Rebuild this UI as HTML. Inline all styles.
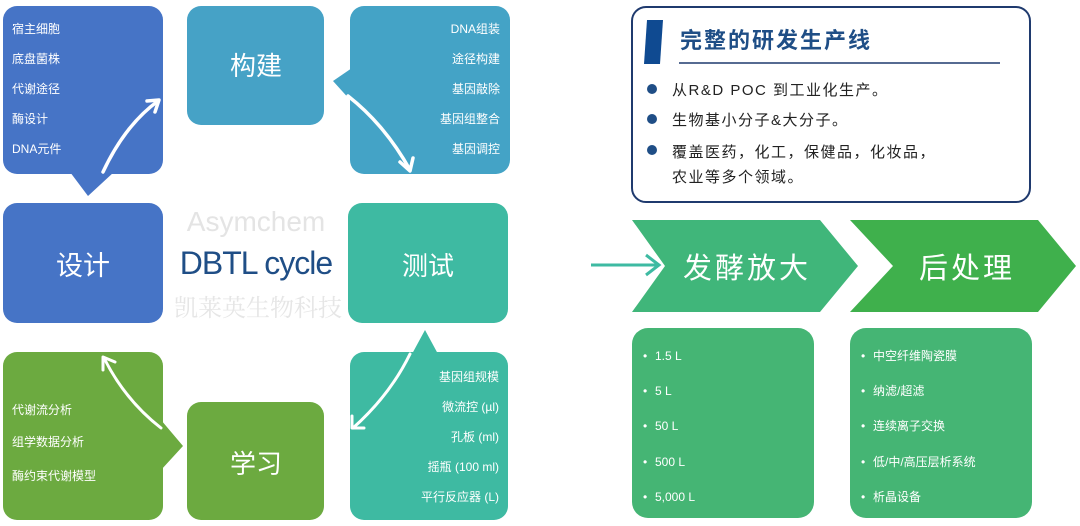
<!DOCTYPE html>
<html><head><meta charset="utf-8"><style>
html,body{margin:0;padding:0;background:#fff;}
svg{display:block;font-family:"Liberation Sans","Noto Sans CJK SC",sans-serif;}
</style></head><body>
<svg width="1080" height="526" viewBox="0 0 1080 526" xmlns="http://www.w3.org/2000/svg">
<rect x="3" y="6" width="160" height="168" rx="14" fill="#4674c6"/>
<polygon points="70,172 114,172 88,196" fill="#4674c6"/>
<g fill="#fff" font-size="12">
<text x="12" y="33">宿主细胞</text>
<text x="12" y="63">底盘菌株</text>
<text x="12" y="93">代谢途径</text>
<text x="12" y="123">酶设计</text>
<text x="12" y="153">DNA元件</text>
</g>
<rect x="3" y="203" width="160" height="120" rx="14" fill="#4674c6"/>
<text x="83" y="275" fill="#fff" font-size="27" text-anchor="middle">设计</text>
<rect x="187" y="6" width="137" height="119" rx="14" fill="#46a2c6"/>
<text x="256" y="75" fill="#fff" font-size="26" text-anchor="middle">构建</text>
<rect x="350" y="6" width="160" height="168" rx="14" fill="#44a3c6"/>
<polygon points="352,68 333,81 352,102" fill="#44a3c6"/>
<g fill="#fff" font-size="12" text-anchor="end">
<text x="500" y="33">DNA组装</text>
<text x="500" y="63">途径构建</text>
<text x="500" y="93">基因敲除</text>
<text x="500" y="123">基因组整合</text>
<text x="500" y="153">基因调控</text>
</g>
<rect x="348" y="203" width="160" height="120" rx="14" fill="#3ebaa2"/>
<text x="428" y="275" fill="#fff" font-size="26" text-anchor="middle">测试</text>
<rect x="350" y="352" width="158" height="168" rx="14" fill="#3ebaa2"/>
<polygon points="412,354 425,330 438,354" fill="#3ebaa2"/>
<g fill="#fff" font-size="12" text-anchor="end">
<text x="499" y="381">基因组规模</text>
<text x="499" y="411">微流控 (µl)</text>
<text x="499" y="441">孔板 (ml)</text>
<text x="499" y="471">摇瓶 (100 ml)</text>
<text x="499" y="501">平行反应器 (L)</text>
</g>
<rect x="3" y="352" width="160" height="168" rx="14" fill="#6caa40"/>
<polygon points="161,420 183,446 161,470" fill="#6caa40"/>
<g fill="#fff" font-size="12">
<text x="12" y="414">代谢流分析</text>
<text x="12" y="446">组学数据分析</text>
<text x="12" y="480">酶约束代谢模型</text>
</g>
<rect x="187" y="402" width="137" height="118" rx="14" fill="#6caa40"/>
<text x="256" y="473" fill="#fff" font-size="26" text-anchor="middle">学习</text>
<g stroke="#fff" stroke-width="3.5" fill="none" stroke-linecap="round" stroke-linejoin="round">
<path d="M103,172 Q125,125 158,101"/>
<path d="M147,101 L159,100 L155,112"/>
<path d="M348,96 Q385,125 410,170"/>
<path d="M400,162 L410,171 L413,158"/>
<path d="M410,354 Q390,395 353,428" stroke-width="3"/>
<path d="M352,416 L352,428 L364,428" stroke-width="3"/>
<path d="M161,428 Q125,400 104,358" stroke-width="3"/>
<path d="M103,370 L103,357 L115,362" stroke-width="3"/>
</g>
<text x="256" y="231" fill="#e4e4e4" font-size="28" text-anchor="middle">Asymchem</text>
<text x="256" y="274" fill="#1f4e86" font-size="32" text-anchor="middle" letter-spacing="-1">DBTL cycle</text>
<text x="258" y="316" fill="#e6e6e6" font-size="24" text-anchor="middle" font-family="Noto Serif CJK SC,serif">凯莱英生物科技</text>
<rect x="632" y="7" width="398" height="195" rx="14" fill="#fff" stroke="#1f3a6e" stroke-width="2"/>
<polygon points="647,20 663,20 660,64 644,64" fill="#0f4a91"/>
<text x="680" y="48" fill="#1f4e86" font-size="22" font-weight="bold" letter-spacing="2">完整的研发生产线</text>
<line x1="679" y1="63" x2="1000" y2="63" stroke="#1f3a6e" stroke-width="1.5"/>
<g fill="#1f4e86"><circle cx="652" cy="89" r="5"/><circle cx="652" cy="119" r="5"/><circle cx="652" cy="150" r="5"/></g>
<g fill="#222" font-size="15" letter-spacing="1.5">
<text x="672" y="95">从R&amp;D POC 到工业化生产。</text>
<text x="672" y="125">生物基小分子&amp;大分子。</text>
<text x="672" y="157">覆盖医药，化工，保健品，化妆品，</text>
<text x="672" y="182">农业等多个领域。</text>
</g>
<line x1="591" y1="265" x2="658" y2="265" stroke="#3ebaa2" stroke-width="3"/>
<path d="M646,255 L659,265 L646,275" stroke="#3ebaa2" stroke-width="3" fill="none"/>
<polygon points="632,220 820,220 858,266 820,312 632,312 665,266" fill="#40b67a"/>
<polygon points="850,220 1038,220 1076,266 1038,312 850,312 893,266" fill="#3fb04c"/>
<text x="747" y="278" fill="#fff" font-size="29" text-anchor="middle" letter-spacing="3">发酵放大</text>
<text x="967" y="278" fill="#fff" font-size="29" text-anchor="middle" letter-spacing="3">后处理</text>
<rect x="632" y="328" width="182" height="190" rx="16" fill="#45b574"/>
<rect x="850" y="328" width="182" height="190" rx="16" fill="#45b574"/>
<g fill="#fff" font-size="12">
<text x="643" y="360">•</text><text x="655" y="360">1.5 L</text>
<text x="643" y="395">•</text><text x="655" y="395">5 L</text>
<text x="643" y="430">•</text><text x="655" y="430">50 L</text>
<text x="643" y="466">•</text><text x="655" y="466">500 L</text>
<text x="643" y="501">•</text><text x="655" y="501">5,000 L</text>
<text x="861" y="360">•</text><text x="873" y="360">中空纤维陶瓷膜</text>
<text x="861" y="395">•</text><text x="873" y="395">纳滤/超滤</text>
<text x="861" y="430">•</text><text x="873" y="430">连续离子交换</text>
<text x="861" y="466">•</text><text x="873" y="466">低/中/高压层析系统</text>
<text x="861" y="501">•</text><text x="873" y="501">析晶设备</text>
</g>
</svg>
</body></html>
